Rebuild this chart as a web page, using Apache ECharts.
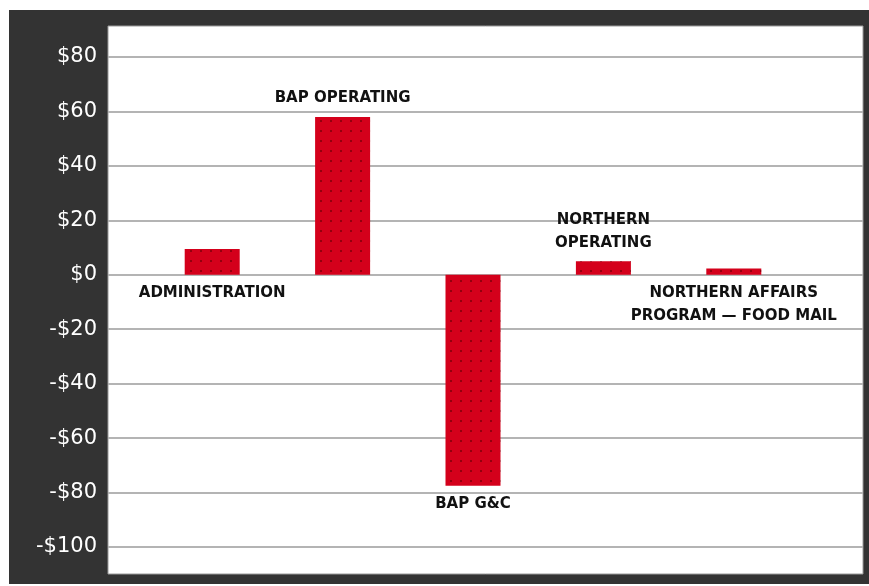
<!DOCTYPE html>
<html>
<head>
<meta charset="utf-8">
<script src="https://cdn.jsdelivr.net/npm/echarts@6/dist/echarts.min.js"></script>
<style>
html,body{margin:0;padding:0;background:#ffffff;}
#chart{width:869px;height:586px;}
</style>
</head>
<body>
<div id="chart"></div>
<script>
// Data
const categories = ['ADMINISTRATION', 'BAP OPERATING', 'BAP G&C', 'NORTHERN\nOPERATING', 'NORTHERN AFFAIRS\nPROGRAM — FOOD MAIL'];
const values = [9.5, 58, -77.5, 5, 2.3];
const yTicks = [-100, -80, -60, -40, -20, 0, 20, 40, 60, 80];

// label placement style per bar (above or below)
const labelSide = ['bottom', 'top', 'bottom', 'top', 'bottom'];

const chart = echarts.init(document.getElementById('chart'), null, {renderer: 'canvas'});

const fmt = v => (v < 0 ? '-$' + (-v) : '$' + v);

const option = {
  backgroundColor: '#ffffff',
  animation: false,
  graphic: {
    elements: [
      {type: 'rect', z: -100, shape: {x: 9, y: 10, width: 860, height: 574}, style: {fill: '#333333'}},
      {type: 'rect', z: -99, shape: {x: 108, y: 26, width: 755, height: 548}, style: {fill: '#ffffff', stroke: '#9a9a9a', lineWidth: 1}}
    ]
  },
  grid: [
    {left: 108, right: 6, top: 57, bottom: 39, containLabel: false},
    {left: 147, width: 652, top: 57, bottom: 39, containLabel: false}
  ],
  xAxis: [
    {gridIndex: 0, type: 'value', show: false, min: 0, max: 1},
    {gridIndex: 1, type: 'category', data: categories, show: false, boundaryGap: true}
  ],
  yAxis: [
    {
      gridIndex: 0, type: 'value', min: yTicks[0], max: yTicks[yTicks.length - 1], interval: 20,
      axisLine: {show: false}, axisTick: {show: false},
      axisLabel: {color: '#ffffff', fontFamily: 'DejaVu Sans', fontSize: 21, margin: 11, formatter: fmt},
      splitLine: {show: true, lineStyle: {color: '#b4b4b4', width: 2}}
    },
    {
      gridIndex: 1, type: 'value', min: yTicks[0], max: yTicks[yTicks.length - 1], interval: 20, show: false,
      splitLine: {show: false}
    }
  ],
  series: [{
    type: 'bar',
    xAxisIndex: 1,
    yAxisIndex: 1,
    barWidth: 55,
    data: values.map((v, i) => ({
      value: v,
      label: {
        show: true,
        position: labelSide[i],
        distance: 7,
        formatter: () => categories[i]
      }
    })),
    itemStyle: {
      color: '#d4001b',
      decal: {symbol: 'rect', symbolSize: 1, color: 'rgba(70,0,0,0.45)', dashArrayX: [[2, 8]], dashArrayY: [2, 8]}
    },
    label: {
      color: '#111111',
      fontFamily: 'DejaVu Sans',
      fontWeight: 'bold',
      fontSize: 15,
      lineHeight: 23,
      align: 'center'
    }
  }]
};
chart.setOption(option);
</script>
</body>
</html>
